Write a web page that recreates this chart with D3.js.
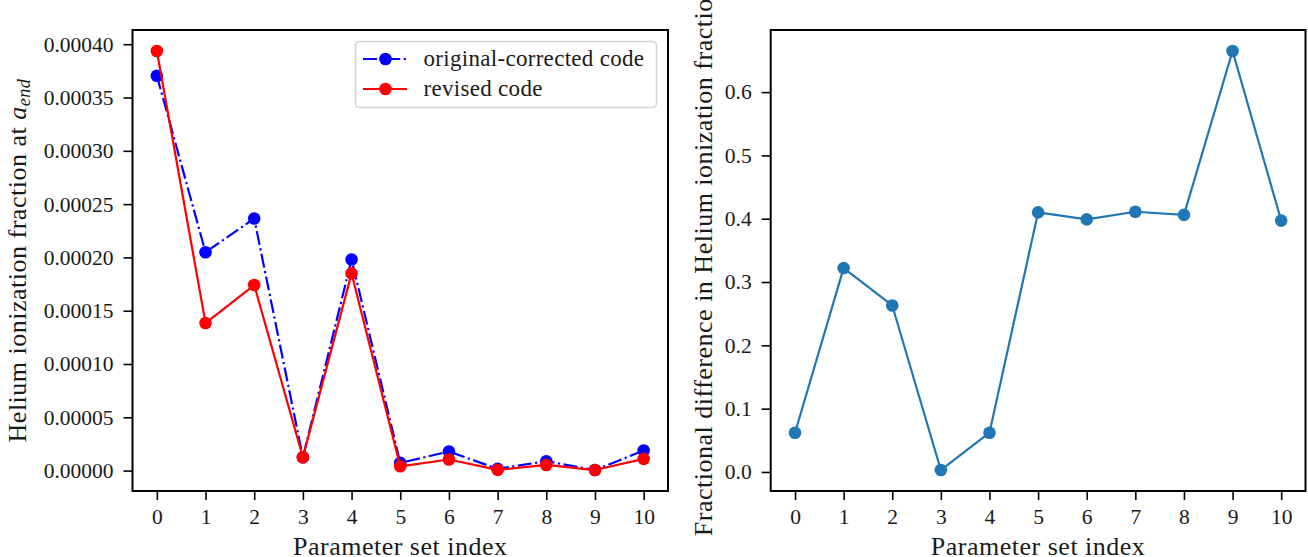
<!DOCTYPE html>
<html>
<head>
<meta charset="utf-8">
<script src="https://cdn.jsdelivr.net/npm/d3@7/dist/d3.min.js"></script>
<style>
  html, body { margin: 0; padding: 0; background: #fff; }
  svg { display: block; }
  text { font-family: "Liberation Serif", "DejaVu Serif", serif; fill: #1a1a1a; }
</style>
</head>
<body>
<svg id="chart" width="1308" height="557"></svg>
<script>
// Parameter set indices (x axis of both panels)
const paramIndex = [0, 1, 2, 3, 4, 5, 6, 7, 8, 9, 10];

// Helium ionization fraction at a_end
const originalCorrected = [0.0003705, 0.0002049, 0.0002365, 0.0000125, 0.0001980, 0.0000072,
                           0.0000179, 0.0000016, 0.0000088, 0.0000005, 0.0000188];
const revised = [0.0003937, 0.0001384, 0.0001741, 0.0000125, 0.0001850, 0.0000040,
                 0.0000104, 0.0000007, 0.0000053, 0.0000005, 0.0000110];

// Fractional difference between the two codes
const fracDiff = [0.062, 0.322, 0.263, 0.003, 0.062, 0.410, 0.399, 0.411, 0.406, 0.665, 0.397];

// Tick values
const xTicks = [0, 1, 2, 3, 4, 5, 6, 7, 8, 9, 10];
const leftYTicks = [0, 0.00005, 0.00010, 0.00015, 0.00020, 0.00025, 0.00030, 0.00035, 0.00040];
const rightYTicks = [0, 0.1, 0.2, 0.3, 0.4, 0.5, 0.6];

const svg = d3.select("#chart");
const TICK_FONT = 21.5;
const LABEL_FONT = 26;
const LABEL_SPACING = "0.5px";
const LEGEND_FONT = 23;

// matplotlib-style 5% autoscale margin
function padded(values) {
  const [lo, hi] = d3.extent(values);
  const m = (hi - lo) * 0.05;
  return [lo - m, hi + m];
}

function panel(box, yDomain, yTicks, yFmt) {
  const x = d3.scaleLinear().domain(padded(paramIndex)).range([box.x0, box.x1]);
  const y = d3.scaleLinear().domain(yDomain).range([box.y1, box.y0]);
  const g = svg.append("g");

  const xa = g.append("g").attr("transform", `translate(0,${box.y1})`)
    .call(d3.axisBottom(x).tickValues(xTicks).tickFormat(d3.format("d")).tickSize(9).tickPadding(9));
  const ya = g.append("g").attr("transform", `translate(${box.x0},0)`)
    .call(d3.axisLeft(y).tickValues(yTicks).tickFormat(yFmt).tickSize(9).tickPadding(10));
  [xa, ya].forEach(a => {
    a.select(".domain").remove();
    a.selectAll(".tick line").attr("stroke", "#000").attr("stroke-width", 1.6);
    a.selectAll(".tick text").style("font-size", TICK_FONT + "px")
      .style("font-family", '"Liberation Serif", serif').attr("fill", "#1a1a1a");
  });

  const plot = g.append("g");
  // frame (all four spines)
  g.append("rect")
    .attr("x", box.x0).attr("y", box.y0)
    .attr("width", box.x1 - box.x0).attr("height", box.y1 - box.y0)
    .attr("fill", "none").attr("stroke", "#000").attr("stroke-width", 2);

  return { x, y, g, plot };
}

function series(p, values, color, dash) {
  const line = d3.line().x((d, i) => p.x(paramIndex[i])).y(d => p.y(d));
  p.plot.append("path").datum(values)
    .attr("d", line).attr("fill", "none")
    .attr("stroke", color).attr("stroke-width", 2.2)
    .attr("stroke-dasharray", dash || null)
    .attr("stroke-linejoin", "round");
  p.plot.selectAll(null).data(values).enter().append("circle")
    .attr("cx", (d, i) => p.x(paramIndex[i])).attr("cy", d => p.y(d))
    .attr("r", 6.3).attr("fill", color);
}

function axisLabel(g, transform, text) {
  return g.append("text")
    .attr("transform", transform)
    .attr("text-anchor", "middle")
    .style("font-size", LABEL_FONT + "px")
    .style("letter-spacing", LABEL_SPACING)
    .text(text);
}

// ---- Left panel: ionization fraction ----
const leftBox = { x0: 132.5, x1: 668, y0: 30, y1: 491 };
const L = panel(leftBox, padded(originalCorrected.concat(revised)), leftYTicks, d3.format(".5f"));
const dashDot = "14,3.5,2.2,3.5";
series(L, originalCorrected, "#0000ff", dashDot);
series(L, revised, "#ff0000", null);

axisLabel(L.g, `translate(${(leftBox.x0 + leftBox.x1) / 2},555)`, "Parameter set index");

// y label with italic a_end
const lyl = axisLabel(L.g, `translate(25.5,${(leftBox.y0 + leftBox.y1) / 2}) rotate(-90)`, null);
lyl.append("tspan").text("Helium ionization fraction at ");
lyl.append("tspan").style("font-style", "italic").text("a");
lyl.append("tspan").style("font-style", "italic").style("font-size", (LABEL_FONT * 0.7) + "px")
  .attr("dy", 4).text("end");

// legend
const legend = L.g.append("g");
legend.append("rect")
  .attr("x", 355.5).attr("y", 41.5).attr("width", 301).attr("height", 66).attr("rx", 4)
  .attr("fill", "#fff").attr("fill-opacity", 0.8)
  .attr("stroke", "#d3d3d3").attr("stroke-width", 1.6);
const legendItems = [
  { label: "original-corrected code", color: "#0000ff", dash: dashDot, y: 59 },
  { label: "revised code", color: "#ff0000", dash: null, y: 89 }
];
legendItems.forEach(it => {
  legend.append("line").attr("x1", 363).attr("x2", 407).attr("y1", it.y).attr("y2", it.y)
    .attr("stroke", it.color).attr("stroke-width", 2.2).attr("stroke-dasharray", it.dash);
  legend.append("circle").attr("cx", 385.5).attr("cy", it.y).attr("r", 6.3).attr("fill", it.color);
  legend.append("text").attr("x", 423.5).attr("y", it.y + 7)
    .style("font-size", LEGEND_FONT + "px").style("letter-spacing", "0.3px").text(it.label);
});

// ---- Right panel: fractional difference ----
const rightBox = { x0: 770.7, x1: 1305.5, y0: 30, y1: 491 };
const R = panel(rightBox, padded(fracDiff), rightYTicks, d3.format(".1f"));
series(R, fracDiff, "#1f77b4", null);

axisLabel(R.g, `translate(${(rightBox.x0 + rightBox.x1) / 2},555)`, "Parameter set index");
axisLabel(R.g, `translate(711.5,${(rightBox.y0 + rightBox.y1) / 2}) rotate(-90)`,
  "Fractional difference in Helium ionization fraction");
</script>
</body>
</html>
